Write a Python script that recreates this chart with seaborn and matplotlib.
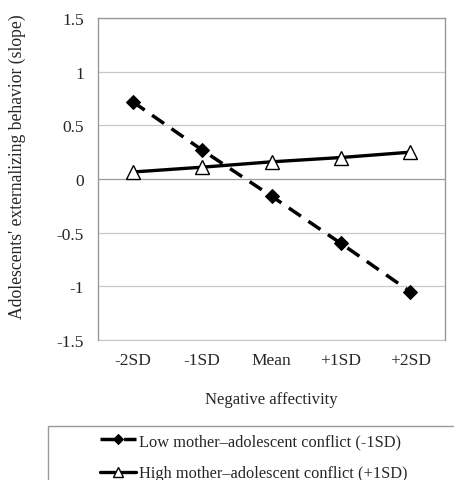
import pandas as pd
import matplotlib
matplotlib.use("Agg")
import matplotlib.pyplot as plt
from matplotlib.patches import Rectangle
import seaborn as sns

# values
categories = ["-2SD", "-1SD", "Mean", "+1SD", "+2SD"]
low_conflict = [0.72, 0.27, -0.16, -0.60, -1.05]
high_conflict = [0.065, 0.11, 0.16, 0.20, 0.25]
low_label = "Low mother\u2013adolescent conflict (-1SD)"
high_label = "High mother\u2013adolescent conflict (+1SD)"
y_ticks = [-1.5, -1, -0.5, 0, 0.5, 1, 1.5]
y_tick_labels = ["-1.5", "-1", "-0.5", "0", "0.5", "1", "1.5"]

sns.set_style("white")
plt.rcParams["font.family"] = ["Liberation Serif", "DejaVu Serif"]

df_low = pd.DataFrame({"na": categories, "slope": low_conflict})
df_high = pd.DataFrame({"na": categories, "slope": high_conflict})

fig = plt.figure(figsize=(4.54, 4.81), dpi=100)
ax = fig.add_axes([98 / 454, 1 - 341 / 481, (445 - 98) / 454, (341 - 19) / 481])

grey = "#9a9a9a"
light = "#c8c8c8"

sns.lineplot(data=df_high, x="na", y="slope", sort=False, color="black",
             linewidth=2.4, marker="^", markersize=10.5, markerfacecolor="white",
             markeredgecolor="black", markeredgewidth=1, ax=ax, zorder=3)
sns.lineplot(data=df_low, x="na", y="slope", sort=False, color="black",
             linewidth=2.5, linestyle=(0, (4.2, 2.6)), marker="D", markersize=7.5,
             markerfacecolor="black", markeredgecolor="black", ax=ax, zorder=4)

ax.set_xlim(-0.5, 4.5)
ax.set_ylim(-1.5, 1.5)
ax.set_yticks(y_ticks, labels=y_tick_labels)
ax.yaxis.grid(True, color=light, linewidth=0.9)
ax.set_axisbelow(True)

# x axis line sits at zero, with ticks between categories
ax.spines["bottom"].set_position(("data", 0))
ax.spines["bottom"].set_color(grey)
ax.set_xticks([i - 0.5 for i in range(len(categories) + 1)],
              labels=[""] * (len(categories) + 1))
ax.tick_params(axis="x", direction="out", length=4, color=grey, width=0.9)
for s in ["left", "right", "top"]:
    ax.spines[s].set_color(grey)
    ax.spines[s].set_linewidth(1)
ax.tick_params(axis="y", direction="out", length=4, color=grey, width=0.9,
               pad=6, labelsize=12.5)
ax.set_xlabel("")
ax.set_ylabel("Adolescents' externalizing behavior (slope)", fontsize=12.7)
ax.yaxis.set_label_coords(-0.207, 0.54)

# category labels along the bottom edge
sec = ax.secondary_xaxis(0)
sec.set_xticks(range(len(categories)), labels=categories)
sec.tick_params(length=0, pad=9, labelsize=12.5)
sec.spines["bottom"].set_color(light)
sec.set_xlabel("Negative affectivity", fontsize=12, labelpad=16)

h_low = [h for h in ax.get_lines() if h.get_marker() == "D"][0]
h_high = [h for h in ax.get_lines() if h.get_marker() == "^"][0]
leg = fig.legend([h_low, h_high], [low_label, high_label],
                 loc="upper left", bbox_to_anchor=(100 / 454, 1 - 434 / 481),
                 frameon=False, fontsize=11.8, handlelength=2.2,
                 handletextpad=0.15, markerscale=0.65, borderpad=0,
                 labelspacing=1.0, borderaxespad=0)

# legend box runs off the right and bottom edges of the picture
fig.add_artist(Rectangle((48 / 454, -0.05), 1.0, 0.05 + 1 - 427 / 481,
                         transform=fig.transFigure, fill=False,
                         edgecolor=grey, linewidth=1))

fig.savefig("out.png", dpi=100)
